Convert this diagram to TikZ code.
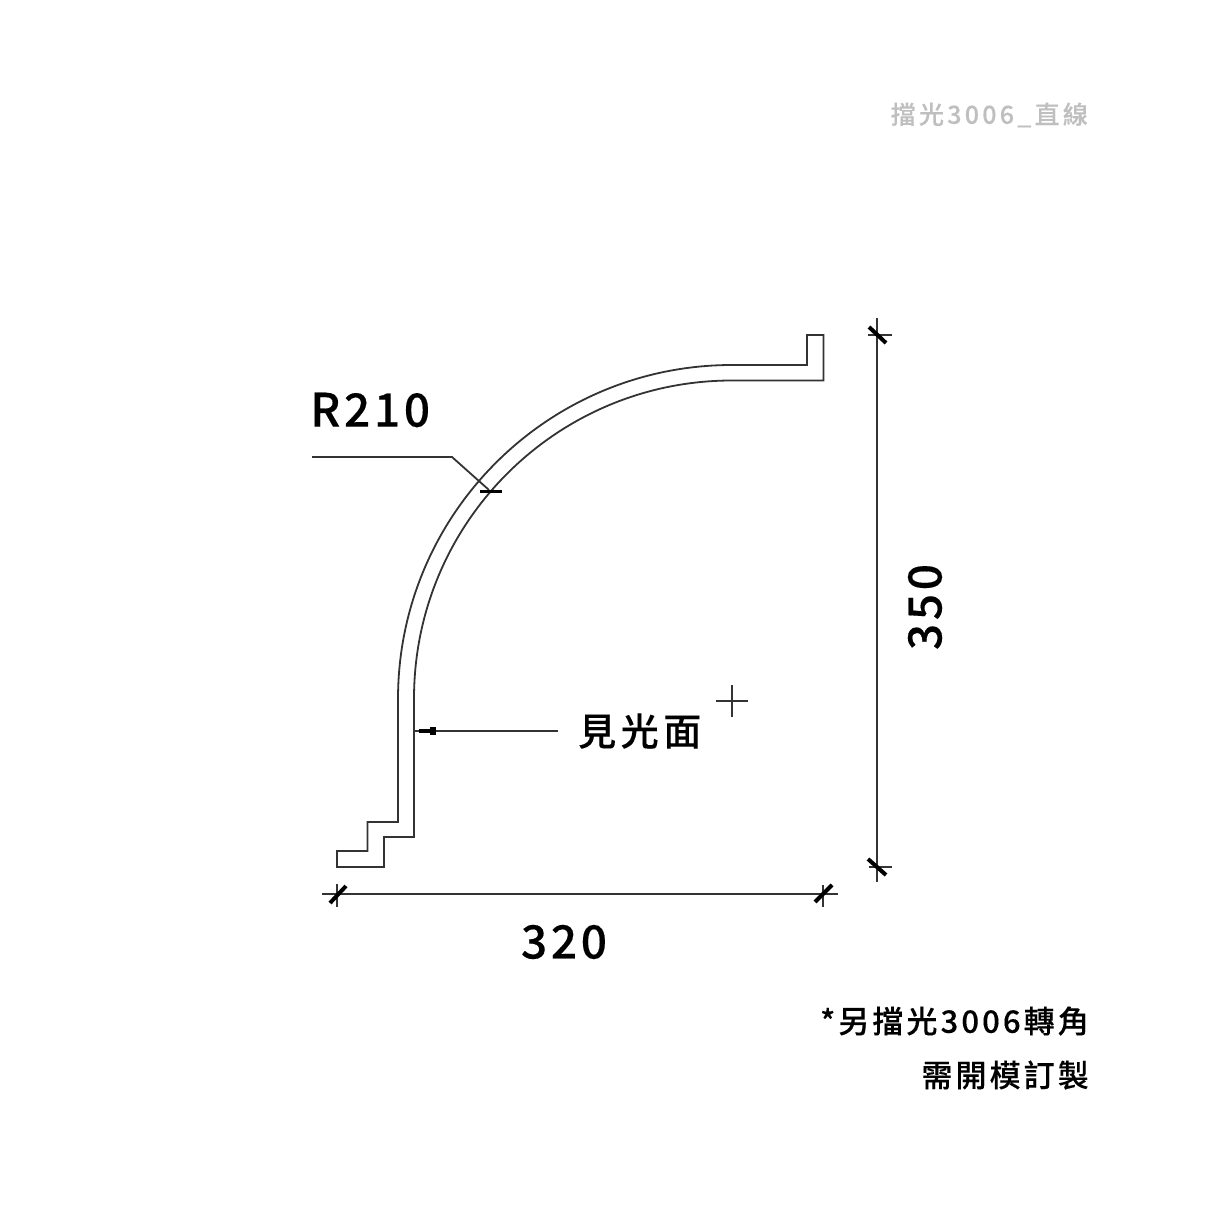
\documentclass[tikz,border=0pt]{standalone}
\usepackage{fontspec}
\setmainfont{Noto Sans CJK TC}
\newfontfamily\lblfont[LetterSpace=8,FakeBold=0.3]{Noto Sans CJK TC Medium}
\newfontfamily\midfont[LetterSpace=12,FakeBold=0.25]{Noto Sans CJK TC Medium}
\newfontfamily\notefont[LetterSpace=10,FakeBold=0.15]{Noto Sans CJK TC Medium}
\newfontfamily\titlefont[LetterSpace=13,FakeBold=0.15]{Noto Sans CJK TC Medium}
\tikzset{
  x=1pt,y=-1pt,
  profile/.style={draw=black!80,line width=1.8pt,line join=miter},
  dimline/.style={draw=black!80,line width=1.8pt},
  slash/.style={draw=black,line width=4pt},
  ticktxt/.style={inner sep=0pt,text=black},
  big/.style={ticktxt,font=\lblfont\fontsize{46}{46}\selectfont},
  mid/.style={ticktxt,font=\midfont\fontsize{38}{38}\selectfont},
  note/.style={ticktxt,anchor=east,font=\notefont\fontsize{31}{31}\selectfont},
  title/.style={ticktxt,anchor=east,text=black!25,font=\titlefont\fontsize{25}{25}\selectfont}
}
\begin{document}
\begin{tikzpicture}
\useasboundingbox (0,0) rectangle (1214,1214);
\fill[white] (0,0) rectangle (1214,1214);
% profile
\draw[profile] (732,365) -- (807,365) -- (807,335) -- (823.5,335) -- (823.5,380.5) -- (732,380.5)
  arc[start angle=90,end angle=180,x radius=318,y radius=-318] -- (414,837) -- (384,837) -- (384,867)
  -- (337,867) -- (337,851) -- (367.5,851) -- (367.5,822) -- (398,822) -- (398,699)
  arc[start angle=180,end angle=90,x radius=334,y radius=-334] -- cycle;
% centre mark
\coordinate (cl) at (716,701); \coordinate (cr) at (748,701);
\coordinate (ct) at (732,685); \coordinate (cb) at (732,717);
\draw[dimline,line width=1.3pt] (cl) -- (cr) (ct) -- (cb);
% R210 leader
\node[big,anchor=west] (r) at (310,410) {R210};
\coordinate (ra) at (312,457); \coordinate (rb) at (452,457); \coordinate (rc) at (489,490);
\coordinate (rd) at (480,491); \coordinate (re) at (502,491);
\draw[dimline] (ra) -- (rb) -- (rc);
\draw[draw=black,line width=3pt] (rd) -- (re);
% face leader
\node[mid,anchor=west] (face) at (578,731) {見光面};
\coordinate (fa) at (558,731); \coordinate (fb) at (414,731);
\coordinate (fc) at (419,731); \coordinate (fd) at (430,731); \coordinate (fe) at (436,731);
\draw[dimline] (fa) -- (fb);
\draw[draw=black,line width=4pt] (fc) -- (fd);
\draw[draw=black,line width=8pt] (fd) -- (fe);
% bottom dimension
\coordinate (hl) at (322,894); \coordinate (hr) at (838,894);
\draw[dimline] (hl) -- (hr);
\draw[dimline] (337,884) -- (337,907) (823,885) -- (823,907);
\draw[slash] (330,903) -- (346,886);
\draw[slash] (815,902) -- (832,885);
\node[big,anchor=center] (w) at (564,942) {320};
% right dimension
\coordinate (vt) at (877,318); \coordinate (vb) at (877,882);
\draw[dimline] (vt) -- (vb);
\draw[dimline] (868,335) -- (892,335) (869,867) -- (892,867);
\draw[slash] (869,327) -- (886,343);
\draw[slash] (868,859) -- (886,875);
\node[big,anchor=center,rotate=90] (h) at (925,607) {350};
% texts
\node[title] (t) at (1088,115) {擋光3006\_直線};
\node[note] (n1) at (1089,1021) {*另擋光3006轉角};
\node[note] (n2) at (1089,1075) {需開模訂製};
\end{tikzpicture}
\end{document}
